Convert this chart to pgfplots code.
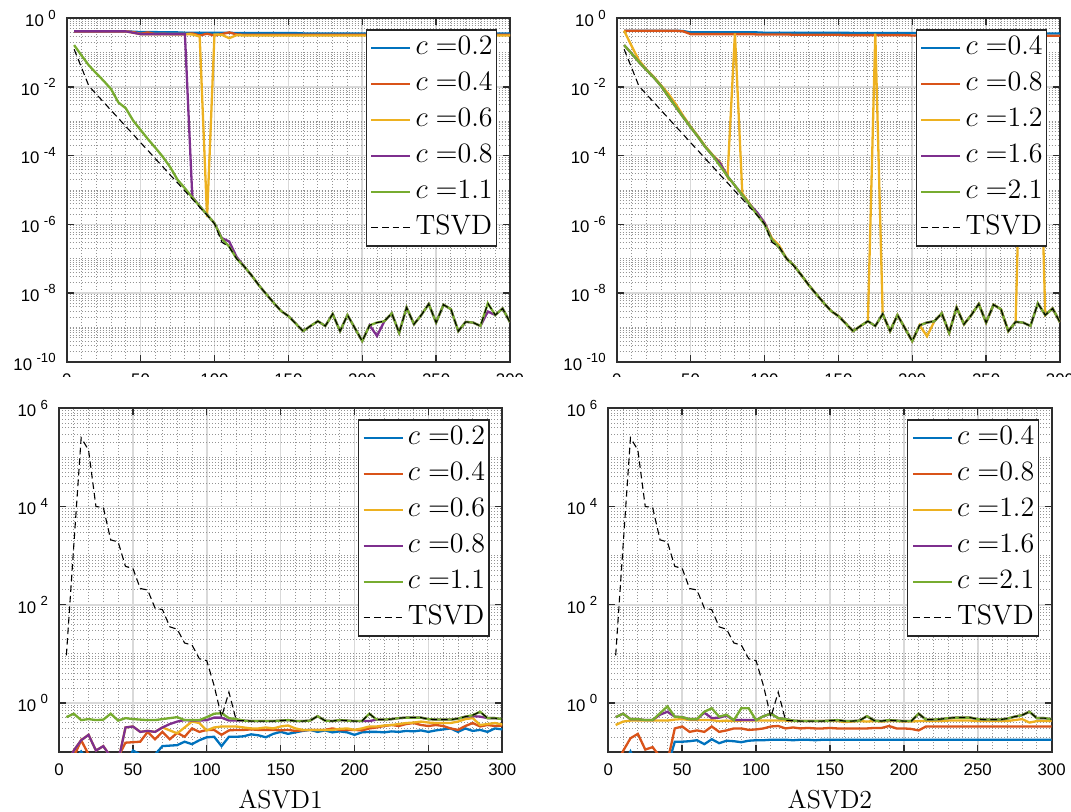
\documentclass[border=0pt]{standalone}
\usepackage{fontspec}
\usepackage{pgfplots}
\usepackage{pgfplotstable}
\pgfplotsset{compat=1.18}
\newfontfamily\tickfont{Liberation Sans}
\definecolor{mb}{rgb}{0,0.447,0.741}
\definecolor{mo}{rgb}{0.85,0.325,0.098}
\definecolor{mw}{rgb}{0.929,0.694,0.125}
\definecolor{mp}{rgb}{0.494,0.184,0.556}
\definecolor{mg}{rgb}{0.466,0.674,0.188}
\newcommand\tp[1]{10\kern2.2pt\raisebox{0.45em}{\fontsize{6.6}{7}\selectfont #1}}

\def\tminor{2e-10}
\foreach \e in {-10,...,-1}{\foreach \m in {2,...,9}{\xdef\tminor{\tminor,\m e\e}}}
\foreach \e in {-9,-7,-5,-3,-1}{\xdef\tminor{\tminor,1e\e}}
\def\bminor{2e-1}
\foreach \e in {-1,...,5}{\foreach \m in {2,...,9}{\xdef\bminor{\bminor,\m e\e}}}
\foreach \e in {1,3,5}{\xdef\bminor{\bminor,1e\e}}
\edef\tmp{\noexpand\pgfplotsset{tminorstyle/.style={minor ytick={\tminor}}, bminorstyle/.style={minor ytick={\bminor}}}}
\tmp

% values are log10 of the plotted quantity
\pgfplotstableread{
x b o w p g t
5 -0.38 -0.38 -0.38 -0.38 -0.78 -0.90
10 -0.38 -0.38 -0.38 -0.38 -1.08 -1.43
15 -0.38 -0.38 -0.38 -0.38 -1.37 -1.97
20 -0.38 -0.38 -0.38 -0.38 -1.60 -2.21
25 -0.38 -0.38 -0.38 -0.38 -1.82 -2.44
30 -0.38 -0.38 -0.38 -0.38 -2.06 -2.68
35 -0.38 -0.38 -0.38 -0.38 -2.45 -2.91
40 -0.38 -0.38 -0.38 -0.38 -2.62 -3.15
45 -0.39 -0.40 -0.42 -0.42 -2.98 -3.38
50 -0.40 -0.45 -0.46 -0.46 -3.25 -3.62
55 -0.40 -0.41 -0.46 -0.46 -3.52 -3.85
60 -0.40 -0.46 -0.46 -0.46 -3.77 -4.09
65 -0.41 -0.45 -0.46 -0.46 -4.03 -4.32
70 -0.41 -0.46 -0.46 -0.46 -4.33 -4.56
75 -0.41 -0.46 -0.46 -0.46 -4.70 -4.79
80 -0.42 -0.46 -0.46 -0.46 -4.95 -5.03
85 -0.42 -0.44 -0.47 -5.20 -5.22 -5.26
90 -0.42 -0.50 -0.53 -5.47 -5.47 -5.50
95 -0.42 -0.45 -5.79 -5.72 -5.72 -5.73
100 -0.42 -0.50 -0.47 -5.97 -5.97 -5.98
105 -0.42 -0.46 -0.48 -6.40 -6.42 -6.52
110 -0.42 -0.41 -0.58 -6.50 -6.65 -6.66
115 -0.43 -0.47 -0.49 -6.95 -7.00 -7.00
120 -0.43 -0.48 -0.50 -7.22 -7.22 -7.22
125 -0.43 -0.48 -0.50 -7.48 -7.48 -7.48
130 -0.43 -0.48 -0.50 -7.77 -7.77 -7.77
135 -0.43 -0.48 -0.50 -8.03 -8.03 -8.03
140 -0.43 -0.48 -0.50 -8.28 -8.28 -8.28
145 -0.43 -0.48 -0.50 -8.52 -8.52 -8.52
150 -0.43 -0.48 -0.50 -8.67 -8.67 -8.67
155 -0.43 -0.48 -0.50 -8.89 -8.89 -8.89
160 -0.44 -0.48 -0.50 -9.11 -9.11 -9.11
165 -0.44 -0.48 -0.50 -8.96 -8.96 -8.96
170 -0.44 -0.48 -0.50 -8.82 -8.82 -8.82
175 -0.44 -0.48 -0.50 -8.96 -8.96 -8.96
180 -0.44 -0.48 -0.50 -8.61 -8.61 -8.61
185 -0.44 -0.48 -0.50 -9.11 -9.11 -9.11
190 -0.44 -0.48 -0.50 -8.64 -8.64 -8.64
195 -0.44 -0.48 -0.50 -9.02 -9.02 -9.02
200 -0.44 -0.48 -0.50 -9.40 -9.40 -9.40
205 -0.44 -0.48 -0.50 -8.94 -8.94 -8.94
210 -0.44 -0.48 -0.50 -9.25 -8.86 -8.86
215 -0.44 -0.48 -0.50 -8.82 -8.82 -8.82
220 -0.44 -0.48 -0.50 -8.59 -8.59 -8.59
225 -0.44 -0.48 -0.50 -9.16 -9.16 -9.16
230 -0.44 -0.48 -0.50 -8.42 -8.42 -8.42
235 -0.44 -0.48 -0.50 -8.91 -8.91 -8.91
240 -0.44 -0.48 -0.50 -8.64 -8.64 -8.64
245 -0.44 -0.48 -0.50 -8.32 -8.32 -8.32
250 -0.44 -0.48 -0.50 -8.86 -8.86 -8.86
255 -0.44 -0.48 -0.50 -8.34 -8.34 -8.34
260 -0.44 -0.48 -0.50 -8.47 -8.47 -8.47
265 -0.44 -0.48 -0.50 -9.11 -9.11 -9.11
270 -0.44 -0.48 -0.50 -8.84 -8.84 -8.84
275 -0.44 -0.48 -0.50 -8.86 -8.86 -8.86
280 -0.44 -0.48 -0.50 -8.96 -8.96 -8.96
285 -0.44 -0.48 -0.50 -8.54 -8.30 -8.30
290 -0.44 -0.48 -0.50 -8.64 -8.64 -8.64
295 -0.44 -0.48 -0.50 -8.45 -8.45 -8.45
300 -0.44 -0.48 -0.50 -8.85 -8.85 -8.85
}\TL

\pgfplotstableread{
x b o w p g t
5 -0.36 -0.36 -0.36 -0.78 -0.78 -0.90
10 -0.36 -0.36 -0.80 -1.02 -1.02 -1.43
15 -0.36 -0.36 -1.22 -1.27 -1.27 -1.97
20 -0.36 -0.36 -1.48 -1.50 -1.50 -2.21
25 -0.36 -0.36 -1.70 -1.72 -1.72 -2.44
30 -0.36 -0.36 -1.95 -1.97 -1.97 -2.68
35 -0.36 -0.36 -2.20 -2.28 -2.28 -2.91
40 -0.36 -0.36 -2.50 -2.58 -2.58 -3.15
45 -0.37 -0.38 -2.84 -2.88 -2.88 -3.38
50 -0.41 -0.46 -3.15 -3.17 -3.17 -3.62
55 -0.41 -0.46 -3.43 -3.45 -3.45 -3.85
60 -0.41 -0.46 -3.73 -3.75 -3.75 -4.09
65 -0.41 -0.46 -3.98 -4.00 -4.00 -4.32
70 -0.41 -0.46 -4.20 -4.22 -4.30 -4.56
75 -0.41 -0.46 -4.62 -4.60 -4.60 -4.79
80 -0.41 -0.46 -0.44 -4.87 -4.87 -5.03
85 -0.41 -0.46 -5.10 -5.15 -5.15 -5.26
90 -0.41 -0.46 -5.40 -5.42 -5.42 -5.50
95 -0.41 -0.47 -5.70 -5.65 -5.72 -5.73
100 -0.42 -0.47 -5.95 -5.95 -6.00 -5.98
105 -0.42 -0.47 -6.40 -6.45 -6.45 -6.52
110 -0.42 -0.47 -6.62 -6.68 -6.68 -6.66
115 -0.42 -0.47 -7.00 -7.00 -7.00 -7.00
120 -0.42 -0.48 -7.20 -7.20 -7.20 -7.22
125 -0.42 -0.48 -7.48 -7.48 -7.48 -7.48
130 -0.42 -0.48 -7.77 -7.77 -7.77 -7.77
135 -0.42 -0.48 -8.03 -8.03 -8.03 -8.03
140 -0.42 -0.48 -8.28 -8.28 -8.28 -8.28
145 -0.42 -0.48 -8.52 -8.52 -8.52 -8.52
150 -0.42 -0.48 -8.67 -8.67 -8.67 -8.67
155 -0.42 -0.49 -8.89 -8.89 -8.89 -8.89
160 -0.43 -0.49 -9.11 -9.11 -9.11 -9.11
165 -0.43 -0.49 -8.96 -8.96 -8.96 -8.96
170 -0.43 -0.49 -8.82 -8.82 -8.82 -8.82
175 -0.43 -0.49 -0.45 -8.96 -8.96 -8.96
180 -0.43 -0.49 -8.61 -8.61 -8.61 -8.61
185 -0.43 -0.49 -9.11 -9.11 -9.11 -9.11
190 -0.43 -0.49 -8.64 -8.64 -8.64 -8.64
195 -0.43 -0.49 -9.02 -9.02 -9.02 -9.02
200 -0.43 -0.50 -9.40 -9.40 -9.40 -9.40
205 -0.43 -0.50 -8.94 -8.94 -8.94 -8.94
210 -0.43 -0.50 -9.26 -8.86 -8.86 -8.86
215 -0.43 -0.50 -8.82 -8.82 -8.82 -8.82
220 -0.43 -0.50 -8.59 -8.59 -8.59 -8.59
225 -0.43 -0.50 -9.16 -9.16 -9.16 -9.16
230 -0.43 -0.50 -8.42 -8.42 -8.42 -8.42
235 -0.43 -0.50 -8.91 -8.91 -8.91 -8.91
240 -0.44 -0.50 -8.64 -8.64 -8.64 -8.64
245 -0.44 -0.50 -8.32 -8.32 -8.32 -8.32
250 -0.44 -0.51 -8.86 -8.86 -8.86 -8.86
255 -0.44 -0.51 -8.34 -8.34 -8.34 -8.34
260 -0.44 -0.51 -8.47 -8.47 -8.47 -8.47
265 -0.44 -0.51 -9.11 -9.11 -9.11 -9.11
270 -0.44 -0.51 -8.84 -8.84 -8.84 -8.84
275 -0.44 -0.51 -0.45 -8.86 -8.86 -8.86
280 -0.44 -0.51 -0.45 -8.96 -8.96 -8.96
285 -0.44 -0.51 -0.45 -8.30 -8.30 -8.30
290 -0.44 -0.51 -8.64 -8.64 -8.64 -8.64
295 -0.44 -0.51 -8.45 -8.45 -8.45 -8.45
300 -0.44 -0.51 -8.85 -8.85 -8.85 -8.85
}\TR

\pgfplotstableread{
x b o w p g t
5 -1.30 -1.30 -1.30 -1.30 -0.29 0.97
10 -1.20 -1.10 -0.97 -0.97 -0.22 3.20
15 -0.99 -0.76 -0.76 -0.76 -0.35 5.40
20 -1.20 -1.05 -0.65 -0.65 -0.33 5.15
25 -1.30 -1.20 -0.97 -0.97 -0.35 4.00
30 -1.30 -1.30 -0.88 -0.88 -0.34 3.98
35 -1.30 -1.30 -1.10 -1.10 -0.22 3.32
40 -1.30 -1.10 -1.20 -1.20 -0.36 3.28
45 -1.30 -0.81 -0.50 -0.50 -0.31 2.78
50 -0.97 -0.80 -0.48 -0.48 -0.33 2.74
55 -1.05 -0.79 -0.59 -0.59 -0.34 2.33
60 -1.20 -0.59 -0.57 -0.57 -0.35 2.30
65 -1.05 -0.74 -0.59 -0.59 -0.35 1.93
70 -0.88 -0.59 -0.50 -0.50 -0.33 1.90
75 -0.87 -0.74 -0.56 -0.43 -0.31 1.55
80 -0.86 -0.61 -0.62 -0.38 -0.29 1.50
85 -0.79 -0.69 -0.50 -0.35 -0.35 1.22
90 -0.84 -0.52 -0.38 -0.36 -0.35 1.18
95 -0.76 -0.59 -0.41 -0.36 -0.35 0.90
100 -0.70 -0.55 -0.56 -0.35 -0.29 0.86
105 -0.69 -0.55 -0.50 -0.30 -0.22 0.35
110 -0.88 -0.65 -0.48 -0.30 -0.21 -0.29
115 -0.69 -0.56 -0.48 -0.36 -0.31 0.22
120 -0.69 -0.55 -0.48 -0.36 -0.33 -0.36
125 -0.68 -0.55 -0.50 -0.36 -0.36 -0.36
130 -0.64 -0.54 -0.52 -0.37 -0.37 -0.37
135 -0.66 -0.55 -0.52 -0.37 -0.37 -0.37
140 -0.70 -0.55 -0.50 -0.37 -0.37 -0.37
145 -0.63 -0.55 -0.52 -0.37 -0.37 -0.37
150 -0.59 -0.56 -0.48 -0.36 -0.36 -0.36
155 -0.63 -0.55 -0.46 -0.35 -0.35 -0.35
160 -0.60 -0.57 -0.52 -0.37 -0.37 -0.37
165 -0.57 -0.56 -0.55 -0.37 -0.37 -0.37
170 -0.55 -0.55 -0.55 -0.36 -0.36 -0.36
175 -0.59 -0.55 -0.55 -0.27 -0.27 -0.27
180 -0.56 -0.55 -0.55 -0.36 -0.36 -0.36
185 -0.60 -0.52 -0.55 -0.37 -0.37 -0.37
190 -0.58 -0.55 -0.53 -0.35 -0.35 -0.35
195 -0.60 -0.55 -0.52 -0.36 -0.36 -0.36
200 -0.65 -0.55 -0.55 -0.37 -0.37 -0.37
205 -0.60 -0.56 -0.52 -0.37 -0.37 -0.37
210 -0.59 -0.52 -0.48 -0.37 -0.22 -0.22
215 -0.59 -0.50 -0.48 -0.34 -0.34 -0.34
220 -0.60 -0.47 -0.46 -0.34 -0.34 -0.34
225 -0.58 -0.45 -0.45 -0.33 -0.33 -0.33
230 -0.59 -0.47 -0.43 -0.31 -0.31 -0.31
235 -0.57 -0.43 -0.41 -0.30 -0.30 -0.30
240 -0.58 -0.41 -0.40 -0.30 -0.30 -0.30
245 -0.56 -0.45 -0.38 -0.30 -0.30 -0.30
250 -0.59 -0.47 -0.40 -0.33 -0.33 -0.33
255 -0.56 -0.45 -0.41 -0.34 -0.34 -0.34
260 -0.54 -0.47 -0.41 -0.34 -0.34 -0.34
265 -0.52 -0.52 -0.41 -0.34 -0.34 -0.34
270 -0.59 -0.55 -0.38 -0.32 -0.32 -0.32
275 -0.52 -0.47 -0.33 -0.28 -0.28 -0.28
280 -0.57 -0.41 -0.31 -0.27 -0.25 -0.25
285 -0.55 -0.48 -0.45 -0.28 -0.18 -0.18
290 -0.59 -0.45 -0.43 -0.31 -0.31 -0.31
295 -0.52 -0.47 -0.41 -0.31 -0.31 -0.31
300 -0.54 -0.46 -0.44 -0.33 -0.33 -0.33
}\BL

\pgfplotstableread{
x b o w p g t
5 -1.30 -1.30 -0.45 -0.29 -0.29 0.97
10 -1.30 -0.98 -0.38 -0.22 -0.22 3.20
15 -0.99 -0.72 -0.36 -0.33 -0.33 5.40
20 -1.30 -0.63 -0.36 -0.33 -0.33 5.15
25 -1.30 -0.95 -0.36 -0.35 -0.35 4.00
30 -1.10 -0.90 -0.36 -0.35 -0.35 3.98
35 -1.30 -1.10 -0.36 -0.24 -0.21 3.32
40 -1.30 -1.20 -0.36 -0.18 -0.07 3.28
45 -0.79 -0.52 -0.34 -0.28 -0.28 2.78
50 -0.79 -0.48 -0.33 -0.29 -0.29 2.74
55 -0.78 -0.59 -0.35 -0.33 -0.33 2.33
60 -0.76 -0.56 -0.35 -0.33 -0.33 2.30
65 -0.84 -0.59 -0.35 -0.20 -0.18 1.93
70 -0.74 -0.48 -0.35 -0.31 -0.11 1.90
75 -0.82 -0.59 -0.37 -0.30 -0.28 1.55
80 -0.77 -0.56 -0.36 -0.26 -0.24 1.50
85 -0.78 -0.52 -0.37 -0.35 -0.35 1.22
90 -0.80 -0.52 -0.36 -0.35 -0.11 1.18
95 -0.77 -0.55 -0.36 -0.35 -0.11 0.90
100 -0.76 -0.54 -0.36 -0.35 -0.35 0.86
105 -0.76 -0.52 -0.36 -0.27 -0.27 0.35
110 -0.75 -0.48 -0.36 -0.22 -0.22 -0.29
115 -0.75 -0.47 -0.36 -0.31 -0.31 0.22
120 -0.75 -0.52 -0.36 -0.33 -0.33 -0.36
125 -0.76 -0.50 -0.37 -0.36 -0.36 -0.36
130 -0.75 -0.52 -0.37 -0.37 -0.37 -0.37
135 -0.75 -0.51 -0.37 -0.37 -0.37 -0.37
140 -0.76 -0.52 -0.37 -0.37 -0.37 -0.37
145 -0.75 -0.52 -0.37 -0.37 -0.37 -0.37
150 -0.75 -0.51 -0.37 -0.36 -0.36 -0.36
155 -0.75 -0.52 -0.37 -0.35 -0.35 -0.35
160 -0.75 -0.52 -0.39 -0.37 -0.37 -0.37
165 -0.75 -0.52 -0.38 -0.37 -0.37 -0.37
170 -0.75 -0.52 -0.37 -0.36 -0.36 -0.36
175 -0.75 -0.52 -0.38 -0.27 -0.27 -0.27
180 -0.75 -0.51 -0.37 -0.36 -0.36 -0.36
185 -0.75 -0.51 -0.38 -0.37 -0.37 -0.37
190 -0.75 -0.47 -0.37 -0.35 -0.35 -0.35
195 -0.75 -0.52 -0.37 -0.36 -0.36 -0.36
200 -0.75 -0.52 -0.38 -0.37 -0.37 -0.37
205 -0.75 -0.53 -0.38 -0.37 -0.37 -0.37
210 -0.75 -0.56 -0.37 -0.22 -0.22 -0.22
215 -0.75 -0.48 -0.37 -0.34 -0.34 -0.34
220 -0.75 -0.48 -0.37 -0.34 -0.34 -0.34
225 -0.75 -0.48 -0.37 -0.33 -0.33 -0.33
230 -0.75 -0.48 -0.36 -0.31 -0.31 -0.31
235 -0.75 -0.48 -0.36 -0.30 -0.30 -0.30
240 -0.75 -0.48 -0.36 -0.30 -0.30 -0.30
245 -0.75 -0.48 -0.36 -0.30 -0.30 -0.30
250 -0.75 -0.48 -0.37 -0.33 -0.33 -0.33
255 -0.75 -0.48 -0.37 -0.34 -0.34 -0.34
260 -0.75 -0.48 -0.37 -0.34 -0.34 -0.34
265 -0.75 -0.48 -0.37 -0.34 -0.34 -0.34
270 -0.75 -0.48 -0.37 -0.32 -0.32 -0.32
275 -0.75 -0.48 -0.35 -0.28 -0.28 -0.28
280 -0.75 -0.48 -0.33 -0.25 -0.25 -0.25
285 -0.75 -0.48 -0.40 -0.18 -0.18 -0.18
290 -0.75 -0.48 -0.37 -0.31 -0.31 -0.31
295 -0.75 -0.48 -0.37 -0.31 -0.31 -0.31
300 -0.75 -0.48 -0.37 -0.33 -0.33 -0.33
}\BR

\pgfplotsset{legend image code/.code={\draw[#1] (0pt,0pt) -- (19.5pt,0pt);}}
\pgfplotsset{
  myax/.style={
    scale only axis, anchor=south west,
    xmin=0, xmax=300, xtick={0,50,...,300},
    xticklabels={0,50,100,150,200,250,300},
    minor x tick num=4,
    grid=both,
    major grid style={draw=black!15, line width=0.8pt},
    minor grid style={draw=black!42, line width=0.45pt, dash pattern=on 0.5pt off 1pt},
    tick align=inside, major tick length=3.5pt, minor tick length=0pt,
    axis line style={draw=black!82, line width=0.9pt},
    major tick style={draw=black!82, line width=0.7pt},
    tick label style={font=\tickfont\fontsize{8.4}{9}\selectfont},
    xticklabel style={yshift=-2.3pt},
    yticklabel style={xshift=-2pt},
    legend cell align=left,
    legend style={at={(rel axis cs:1,1)}, anchor=north east, xshift=-6.35pt, yshift=-5.5pt,
      draw=black!85, line width=0.6pt, fill=white, inner xsep=2pt, inner ysep=0pt,
      font=\fontsize{14}{17}\selectfont, row sep=0pt, column sep=2pt,
      nodes={inner xsep=0pt, inner ysep=2pt, text height=10.5pt, text depth=3.5pt}},
    xlabel style={font=\fontsize{13}{15}\selectfont, at={(axis description cs:0.5,0)}, anchor=base, inner sep=0pt, yshift=-28pt},
  },
}
\tikzset{
  myln/.style={line width=1.15pt, draw=#1},
  mytd/.style={line width=0.55pt, draw=black, dash pattern=on 3.3pt off 2pt},
}

\begin{document}
\begin{tikzpicture}
\path[use as bounding box] (0,0) rectangle (535.5pt,405.5pt);

% top-left
\begin{semilogyaxis}[myax, tminorstyle, at={(33.35pt,224.65pt)}, width=221.65pt, height=171.7pt,
  ymin=1e-10, ymax=1, ytick={1e-10,1e-8,1e-6,1e-4,1e-2,1},
  yticklabels={\tp{-10},\tp{-8},\tp{-6},\tp{-4},\tp{-2},\tp{0}}]
\addplot[myln=mb] table[x=x, y expr={10^(\thisrow{b})}] {\TL};
\addplot[myln=mo] table[x=x, y expr={10^(\thisrow{o})}] {\TL};
\addplot[myln=mw] table[x=x, y expr={10^(\thisrow{w})}] {\TL};
\addplot[myln=mp] table[x=x, y expr={10^(\thisrow{p})}] {\TL};
\addplot[myln=mg] table[x=x, y expr={10^(\thisrow{g})}] {\TL};
\addplot[mytd] table[x=x, y expr={10^(\thisrow{t})}] {\TL};
\legend{$c=$0.2,$c=$0.4,$c=$0.6,$c=$0.8,$c=$1.1,TSVD}
\end{semilogyaxis}

% top-right
\begin{semilogyaxis}[myax, tminorstyle, at={(308.35pt,224.65pt)}, width=221.65pt, height=171.7pt,
  ymin=1e-10, ymax=1, ytick={1e-10,1e-8,1e-6,1e-4,1e-2,1},
  yticklabels={\tp{-10},\tp{-8},\tp{-6},\tp{-4},\tp{-2},\tp{0}}]
\addplot[myln=mb] table[x=x, y expr={10^(\thisrow{b})}] {\TR};
\addplot[myln=mo] table[x=x, y expr={10^(\thisrow{o})}] {\TR};
\addplot[myln=mw] table[x=x, y expr={10^(\thisrow{w})}] {\TR};
\addplot[myln=mp] table[x=x, y expr={10^(\thisrow{p})}] {\TR};
\addplot[myln=mg] table[x=x, y expr={10^(\thisrow{g})}] {\TR};
\addplot[mytd] table[x=x, y expr={10^(\thisrow{t})}] {\TR};
\legend{$c=$0.4,$c=$0.8,$c=$1.2,$c=$1.6,$c=$2.1,TSVD}
\end{semilogyaxis}

\fill[white] (-1pt,207pt) rectangle (537pt,217.1pt);

% bottom-left
\begin{semilogyaxis}[myax, bminorstyle, at={(29.5pt,29.5pt)}, width=221.65pt, height=171.85pt,
  ymin=0.1, ymax=1e6, ytick={1,100,1e4,1e6},
  yticklabels={\tp{0},\tp{2},\tp{4},\tp{6}}, xlabel={ASVD1}]
\addplot[myln=mb] table[x=x, y expr={10^(\thisrow{b})}] {\BL};
\addplot[myln=mo] table[x=x, y expr={10^(\thisrow{o})}] {\BL};
\addplot[myln=mw] table[x=x, y expr={10^(\thisrow{w})}] {\BL};
\addplot[myln=mp] table[x=x, y expr={10^(\thisrow{p})}] {\BL};
\addplot[myln=mg] table[x=x, y expr={10^(\thisrow{g})}] {\BL};
\addplot[mytd] table[x=x, y expr={10^(\thisrow{t})}] {\BL};
\legend{$c=$0.2,$c=$0.4,$c=$0.6,$c=$0.8,$c=$1.1,TSVD}
\end{semilogyaxis}

% bottom-right
\begin{semilogyaxis}[myax, bminorstyle, at={(304.15pt,29.5pt)}, width=221.65pt, height=171.85pt,
  ymin=0.1, ymax=1e6, ytick={1,100,1e4,1e6},
  yticklabels={\tp{0},\tp{2},\tp{4},\tp{6}}, xlabel={ASVD2}]
\addplot[myln=mb] table[x=x, y expr={10^(\thisrow{b})}] {\BR};
\addplot[myln=mo] table[x=x, y expr={10^(\thisrow{o})}] {\BR};
\addplot[myln=mw] table[x=x, y expr={10^(\thisrow{w})}] {\BR};
\addplot[myln=mp] table[x=x, y expr={10^(\thisrow{p})}] {\BR};
\addplot[myln=mg] table[x=x, y expr={10^(\thisrow{g})}] {\BR};
\addplot[mytd] table[x=x, y expr={10^(\thisrow{t})}] {\BR};
\legend{$c=$0.4,$c=$0.8,$c=$1.2,$c=$1.6,$c=$2.1,TSVD}
\end{semilogyaxis}
\end{tikzpicture}
\end{document}
